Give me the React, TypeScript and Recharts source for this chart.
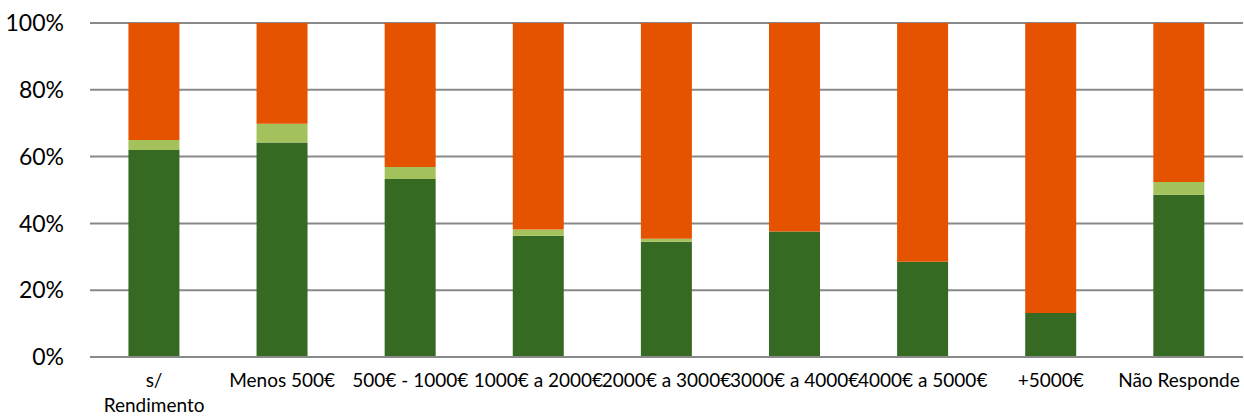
import { Bar, BarChart, CartesianGrid, XAxis, YAxis } from "recharts"

const categories = [
  "s/\nRendimento",
  "Menos 500€",
  "500€ - 1000€",
  "1000€ a 2000€",
  "2000€ a 3000€",
  "3000€ a 4000€",
  "4000€ a 5000€",
  "+5000€",
  "Não Responde",
]
const darkGreen = [62.0, 64.2, 53.3, 36.3, 34.5, 37.6, 28.5, 13.2, 48.6]
const lightGreen = [3.0, 5.6, 3.6, 1.9, 0.9, 0, 0, 0, 3.8]
const orange = [35.0, 30.2, 43.1, 61.8, 64.6, 62.4, 71.5, 86.8, 47.6]
const yTicks = [0, 20, 40, 60, 80, 100]

const data = categories.map((name, i) => ({
  name,
  a: darkGreen[i],
  b: lightGreen[i],
  c: orange[i],
}))

const font = "Lato, 'Open Sans', sans-serif"

function CategoryTick(props: any) {
  const { x, y, payload } = props
  const lines = String(payload.value).split("\n")
  return (
    <text x={x} y={y + 22} textAnchor="middle" fill="#000" fontSize={19} fontFamily={font}>
      {lines.map((line, i) => (
        <tspan key={i} x={x} dy={i === 0 ? 0 : 25}>
          {line}
        </tspan>
      ))}
    </text>
  )
}

export default function App() {
  return (
    <div style={{ position: "absolute", left: 0, top: 0, background: "#fff" }}>
      <BarChart
        width={1244}
        height={419}
        data={data}
        margin={{ top: 23, right: 1, bottom: 12, left: 10 }}
        barCategoryGap="30%"
      >
        <CartesianGrid vertical={false} stroke="#898989" strokeWidth={2} />
        <XAxis
          dataKey="name"
          interval={0}
          tickLine={false}
          axisLine={{ stroke: "#898989", strokeWidth: 2 }}
          height={50}
          tick={<CategoryTick />}
        />
        <YAxis
          width={80}
          domain={[0, 100]}
          ticks={yTicks}
          tickFormatter={(v) => `${v}%`}
          axisLine={false}
          tickLine={false}
          tickMargin={20}
          tick={{ fill: "#000", fontSize: 23, fontFamily: font }}
        />
        <Bar dataKey="a" stackId="s" fill="#366922" isAnimationActive={false} />
        <Bar dataKey="b" stackId="s" fill="#a4c25b" isAnimationActive={false} />
        <Bar dataKey="c" stackId="s" fill="#e55300" isAnimationActive={false} />
      </BarChart>
    </div>
  )
}
